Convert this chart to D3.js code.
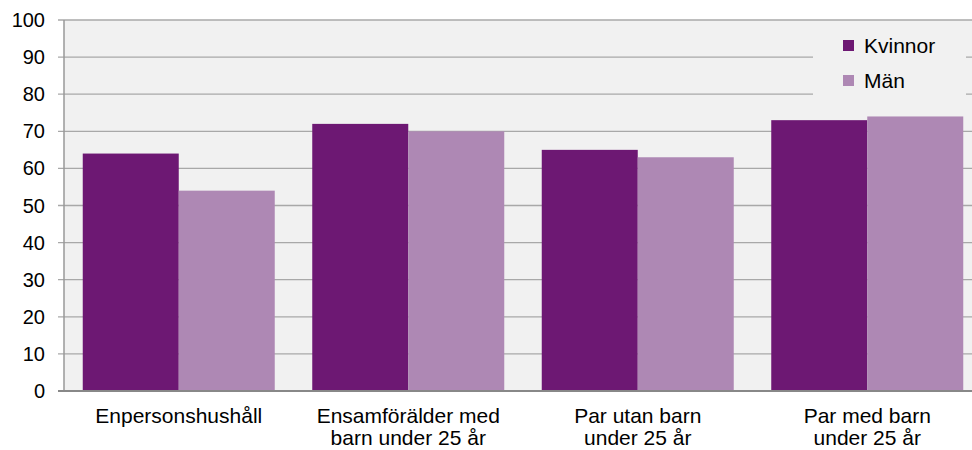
<!DOCTYPE html>
<html>
<head>
<meta charset="utf-8">
<script src="https://cdn.jsdelivr.net/npm/d3@7.9.0/dist/d3.min.js"></script>
<style>
  body { margin: 0; background: #fff; }
  svg { display: block; font-family: "Liberation Sans", Arial, sans-serif; }
</style>
</head>
<body>
<svg id="chart" width="972" height="450"></svg>
<script>
const categories = [
  ["Enpersonshushåll"],
  ["Ensamförälder med", "barn under 25 år"],
  ["Par utan barn", "under 25 år"],
  ["Par med barn", "under 25 år"]
];
const seriesNames = ["Kvinnor", "Män"];
const kvinnor = [64, 72, 65, 73];
const man = [54, 70, 63, 74];
const yTicks = [0, 10, 20, 30, 40, 50, 60, 70, 80, 90, 100];
const colors = ["#6d1873", "#ae88b4"];

const svg = d3.select("#chart");
const plotLeft = 64, plotTop = 20, plotBottom = 391, plotRight = 982;

const x = d3.scaleBand().domain(d3.range(categories.length)).range([plotLeft, plotRight]);
const inner = 18.75;
const xs = d3.scaleBand().domain(seriesNames)
  .range([inner, x.bandwidth() - inner]);
const y = d3.scaleLinear().domain([0, 100]).range([plotBottom, plotTop]);

// plot background
svg.append("rect")
  .attr("x", plotLeft).attr("y", plotTop)
  .attr("width", 972 - plotLeft).attr("height", plotBottom - plotTop)
  .attr("fill", "#f1f1f1");

// gridlines
svg.append("g").selectAll("line")
  .data(yTicks.filter(d => d > 0))
  .join("line")
  .attr("x1", plotLeft - 6).attr("x2", 972)
  .attr("y1", d => y(d)).attr("y2", d => y(d))
  .attr("stroke", "#a8a8a8").attr("stroke-width", 1.3);

// bars
const data = [kvinnor, man];
const groups = svg.append("g").selectAll("g")
  .data(categories)
  .join("g")
  .attr("transform", (d, i) => `translate(${x(i)},0)`);

groups.selectAll("rect")
  .data((d, i) => seriesNames.map((s, j) => ({ s, v: data[j][i] })))
  .join("rect")
  .attr("x", d => xs(d.s))
  .attr("width", xs.bandwidth())
  .attr("y", d => y(d.v))
  .attr("height", d => y(0) - y(d.v))
  .attr("fill", (d, j) => colors[j]);

// axis lines
svg.append("line")
  .attr("x1", plotLeft).attr("x2", plotLeft)
  .attr("y1", plotTop).attr("y2", plotBottom)
  .attr("stroke", "#999").attr("stroke-width", 1.5);
svg.append("line")
  .attr("x1", plotLeft - 6).attr("x2", 972)
  .attr("y1", plotBottom).attr("y2", plotBottom)
  .attr("stroke", "#888").attr("stroke-width", 2);

svg.append("g").selectAll("text")
  .data(yTicks)
  .join("text")
  .attr("x", 45)
  .attr("y", d => y(d))
  .attr("dy", "0.35em")
  .attr("text-anchor", "end")
  .attr("font-size", 20)
  .attr("fill", "#000")
  .text(d => d);

// category labels
const labels = svg.append("g").selectAll("text")
  .data(categories)
  .join("text")
  .attr("text-anchor", "middle")
  .attr("font-size", 21)
  .attr("fill", "#000")
  .attr("transform", (d, i) => `translate(${x(i) + x.bandwidth() / 2},423)`);
labels.selectAll("tspan")
  .data(d => d)
  .join("tspan")
  .attr("x", 0)
  .attr("y", (d, i) => i * 22)
  .text(d => d);

// legend
const legend = svg.append("g");
legend.append("rect")
  .attr("x", 813).attr("y", 28)
  .attr("width", 153).attr("height", 76)
  .attr("fill", "#f1f1f1");
const items = legend.selectAll("g")
  .data(seriesNames)
  .join("g")
  .attr("transform", (d, i) => `translate(843,${40 + i * 35})`);
items.append("rect")
  .attr("width", 11).attr("height", 11)
  .attr("fill", (d, i) => colors[i]);
items.append("text")
  .attr("x", 21).attr("y", 5.5)
  .attr("dy", "0.35em")
  .attr("font-size", 21)
  .attr("fill", "#000")
  .text(d => d);
</script>
</body>
</html>
